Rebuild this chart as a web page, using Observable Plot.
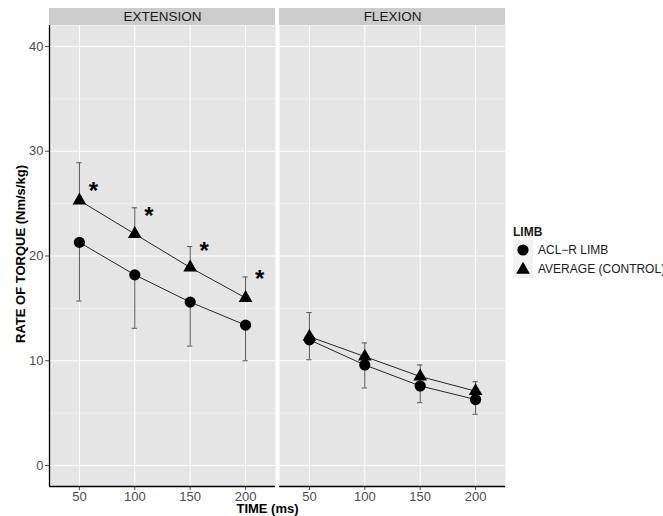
<!DOCTYPE html>
<html>
<head>
<meta charset="utf-8">
<script src="https://cdn.jsdelivr.net/npm/d3@7"></script>
<script src="https://cdn.jsdelivr.net/npm/@observablehq/plot@0.6"></script>
<style>
  html, body { margin: 0; padding: 0; background: #fff; overflow: hidden; }
  #wrap { position: relative; width: 663px; height: 516px; font-family: "Liberation Sans", Arial, Helvetica, sans-serif; }
  #legend { position: absolute; left: 513px; top: 224px; color: #1a1a1a; white-space: nowrap; }
  #legend .title { font-weight: bold; font-size: 12px; height: 16px; line-height: 16px; }
  #legend .row { display: flex; align-items: center; height: 19px; }
  #legend .key { width: 20px; height: 19px; background: #f2f2f2; display: flex; align-items: center; justify-content: center; }
  #legend .lab { font-size: 12px; margin-left: 5px; }
</style>
</head>
<body>
<div id="wrap"></div>
<script>
const PANELS = ["EXTENSION", "FLEXION"];
const LIMBS = ["ACL\u2212R LIMB", "AVERAGE (CONTROL)"];
const TIMES = [50, 100, 150, 200];
const EXT_ACL = [21.3, 18.2, 15.6, 13.4];
const EXT_ACL_LOW = [15.7, 13.1, 11.4, 10.0];
const EXT_CTRL = [25.3, 22.1, 18.9, 16.0];
const EXT_CTRL_HIGH = [28.9, 24.6, 20.9, 18.0];
const FLEX_ACL = [12.0, 9.6, 7.6, 6.3];
const FLEX_ACL_LOW = [10.1, 7.4, 6.0, 4.9];
const FLEX_CTRL = [12.3, 10.4, 8.5, 7.1];
const FLEX_CTRL_HIGH = [14.6, 11.7, 9.6, 8.0];
const STAR_Y = [26.7, 24.4, 21.0, 18.3];
const Y_TICKS = [0, 10, 20, 30, 40];
const Y_MINOR = [5, 15, 25, 35];
const X_TICKS = [50, 100, 150, 200];
const X_DOMAIN = [23, 227];
const Y_DOMAIN = [-2, 42];
const AXIS_TITLE_X = "TIME (ms)";
const AXIS_TITLE_Y = "RATE OF TORQUE (Nm/s/kg)";
const LEGEND_TITLE = "LIMB";

const series = [
  {panel: PANELS[0], limb: LIMBS[0], mean: EXT_ACL, bar: EXT_ACL_LOW},
  {panel: PANELS[0], limb: LIMBS[1], mean: EXT_CTRL, bar: EXT_CTRL_HIGH},
  {panel: PANELS[1], limb: LIMBS[0], mean: FLEX_ACL, bar: FLEX_ACL_LOW},
  {panel: PANELS[1], limb: LIMBS[1], mean: FLEX_CTRL, bar: FLEX_CTRL_HIGH}
];
const data = series.flatMap(s => TIMES.map((t, i) => ({panel: s.panel, limb: s.limb, time: t, mean: s.mean[i], bar: s.bar[i]})));
const stars = TIMES.map((t, i) => ({panel: PANELS[0], time: t, y: STAR_Y[i]}));

const STRIP_UNITS = 17 / (461 / (Y_DOMAIN[1] - Y_DOMAIN[0]));
const CAP = 2.4;

const chart = Plot.plot({
  width: 663,
  height: 516,
  marginLeft: 49,
  marginRight: 158,
  marginTop: 25,
  marginBottom: 30,
  style: {fontFamily: "'Liberation Sans', Arial, Helvetica, sans-serif", background: "#fff", overflow: "visible"},
  fx: {domain: PANELS, paddingInner: 4 / 230, paddingOuter: 0, axis: null, label: null},
  x: {domain: X_DOMAIN, axis: null},
  y: {domain: Y_DOMAIN, axis: null},
  marks: [
    Plot.frame({fill: "#e5e5e5", stroke: "none"}),
    Plot.rect(PANELS, {fx: d => d, x1: () => X_DOMAIN[0], x2: () => X_DOMAIN[1], y1: () => Y_DOMAIN[1], y2: () => Y_DOMAIN[1] + STRIP_UNITS, fill: "#cccccc"}),
    Plot.text(PANELS, {fx: d => d, text: d => d, frameAnchor: "top", lineAnchor: "middle", textAnchor: "middle", dy: -8.5, fontSize: 13.5, fill: "#1a1a1a"}),
    Plot.gridY(Y_MINOR, {stroke: "#f2f2f2", strokeOpacity: 1, strokeWidth: 0.8}),
    Plot.gridY(Y_TICKS, {stroke: "#ffffff", strokeOpacity: 1, strokeWidth: 1.1}),
    Plot.gridX(X_TICKS, {stroke: "#ffffff", strokeOpacity: 1, strokeWidth: 1.1}),
    Plot.axisY(Y_TICKS, {fx: () => PANELS[0], tickSize: 4, tickPadding: 2, fontSize: 13, color: "#4d4d4d", label: null, anchor: "left"}),
    Plot.axisX(X_TICKS, {tickSize: 4, tickPadding: 1.5, fontSize: 13, color: "#4d4d4d", label: null, anchor: "bottom"}),
    Plot.ruleX([X_DOMAIN[0]], {fx: () => PANELS[0], stroke: "#000", strokeWidth: 1.3}),
    Plot.ruleY([Y_DOMAIN[0]], {stroke: "#000", strokeWidth: 1.3}),
    Plot.ruleX(data, {x: "time", y1: "mean", y2: "bar", fx: "panel", stroke: "#555", strokeWidth: 1}),
    Plot.ruleY(data, {y: "bar", x1: d => d.time - CAP, x2: d => d.time + CAP, fx: "panel", stroke: "#555", strokeWidth: 1}),
    Plot.line(data, {x: "time", y: "mean", z: "limb", fx: "panel", stroke: "#262626", strokeWidth: 1}),
    Plot.dot(data.filter(d => d.limb === LIMBS[0]), {x: "time", y: "mean", fx: "panel", symbol: "circle", r: 5.6, fill: "#000", stroke: "none"}),
    Plot.dot(data.filter(d => d.limb === LIMBS[1]), {x: "time", y: "mean", fx: "panel", symbol: "triangle", r: 5.1, fill: "#000", stroke: "none"}),
    Plot.text(stars, {x: "time", y: "y", fx: "panel", text: () => "*", fontSize: 24, fontWeight: "bold", fill: "#000", dx: 14, dy: 6}),
    Plot.text([AXIS_TITLE_Y], {fx: () => PANELS[0], text: d => d, frameAnchor: "left", lineAnchor: "middle", textAnchor: "middle", rotate: -90, dx: -29, dy: -2, fontSize: 13, fontWeight: "bold", fill: "#000"}),
    Plot.text([AXIS_TITLE_X], {fx: () => PANELS[0], text: d => d, frameAnchor: "bottom-right", lineAnchor: "middle", textAnchor: "middle", dx: -8, dy: 22.5, fontSize: 13, fontWeight: "bold", fill: "#000"})
  ]
});

const wrap = document.getElementById("wrap");
wrap.appendChild(chart);

const legend = document.createElement("div");
legend.id = "legend";
const circleSvg = '<svg width="14" height="14"><circle cx="7" cy="7" r="5.6" fill="#000"/></svg>';
const triSvg = '<svg width="16" height="16"><path d="' + d3.symbol(d3.symbolTriangle, Math.PI * 5.1 * 5.1)() + '" transform="translate(8,8.8)" fill="#000"/></svg>';
legend.innerHTML = '<div class="title"></div>' +
  '<div class="row"><div class="key">' + circleSvg + '</div><div class="lab"></div></div>' +
  '<div class="row"><div class="key">' + triSvg + '</div><div class="lab"></div></div>';
legend.querySelector(".title").textContent = LEGEND_TITLE;
const labs = legend.querySelectorAll(".lab");
labs[0].textContent = LIMBS[0];
labs[1].textContent = LIMBS[1];
wrap.appendChild(legend);
</script>
</body>
</html>
